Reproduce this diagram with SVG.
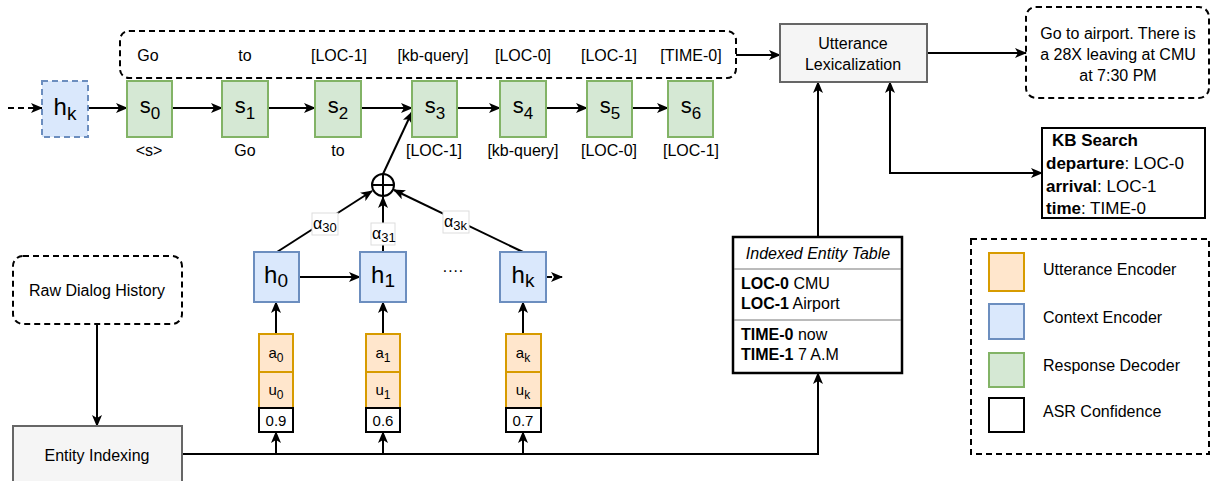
<svg xmlns="http://www.w3.org/2000/svg" width="1211" height="481" viewBox="0 0 1211 481">
<style>
text{font-family:"Liberation Sans",Arial,sans-serif;fill:#000}
.t16{font-size:16px}
.c{text-anchor:middle}
.big{font-size:22px}
.sub{font-size:17px}
.hbig{font-size:24px}
.hsub{font-size:19px}
.green{fill:#d5e8d4;stroke:#82b366;stroke-width:2}
.blue{fill:#dae8fc;stroke:#6c8ebf;stroke-width:2}
.orange{fill:#ffe6cc;stroke:#d79b00;stroke-width:2}
.gray{fill:#f5f5f5;stroke:#666;stroke-width:2}
.white{fill:#fff;stroke:#000;stroke-width:2}
.dash{fill:none;stroke:#000;stroke-width:2;stroke-dasharray:6 4}
.ln{fill:none;stroke:#000;stroke-width:2}
</style>
<defs>
<marker id="ah" viewBox="0 0 12 10" refX="11" refY="5" markerWidth="12" markerHeight="10" markerUnits="userSpaceOnUse" orient="auto-start-reverse">
<path d="M0,0 L12,5 L0,10 L3,5 Z" fill="#000"/>
</marker>
</defs>

<g id="connectors">
<path class="ln" d="M8,108 H42" stroke-dasharray="6 4" marker-end="url(#ah)"/>
<path class="ln" d="M88,108 H127" marker-end="url(#ah)"/>
<path class="ln" d="M172,108 H222" marker-end="url(#ah)"/>
<path class="ln" d="M268,108 H315" marker-end="url(#ah)"/>
<path class="ln" d="M361,108 H412" marker-end="url(#ah)"/>
<path class="ln" d="M457,108 H500" marker-end="url(#ah)"/>
<path class="ln" d="M546,108 H587" marker-end="url(#ah)"/>
<path class="ln" d="M632,108 H668" marker-end="url(#ah)"/>
<path class="ln" d="M736,55 H780" marker-end="url(#ah)"/>
<path class="ln" d="M927,53 H1026" marker-end="url(#ah)"/>
<path class="ln" d="M890,82 V173 H1042" marker-start="url(#ah)" marker-end="url(#ah)"/>
<path class="ln" d="M818,237 V82" marker-end="url(#ah)"/>
<path class="ln" d="M182,454 H818 V373" marker-end="url(#ah)"/>
<path class="ln" d="M97,324 V426" marker-end="url(#ah)"/>
<path class="ln" d="M276,454 V432" marker-end="url(#ah)"/>
<path class="ln" d="M383,454 V432" marker-end="url(#ah)"/>
<path class="ln" d="M523,454 V432" marker-end="url(#ah)"/>
<path class="ln" d="M276,334 V302" marker-end="url(#ah)"/>
<path class="ln" d="M383,334 V302" marker-end="url(#ah)"/>
<path class="ln" d="M523,334 V302" marker-end="url(#ah)"/>
<path class="ln" d="M299,277 H360" marker-end="url(#ah)"/>
<path class="ln" d="M546,277 H562" stroke-dasharray="6 4" marker-end="url(#ah)"/>
<path class="ln" d="M277,252 L372,191" marker-end="url(#ah)"/>
<path class="ln" d="M383,252 V197" marker-end="url(#ah)"/>
<path class="ln" d="M523,252 L394,190" marker-end="url(#ah)"/>
<path class="ln" d="M383,174 L412,112" marker-end="url(#ah)"/>
<g id="alpha-labels">
<rect x="312" y="213" width="26" height="22" fill="#fff" stroke="#ddd" stroke-width="1"/>
<text x="313" y="229" style="font-size:16px">α<tspan dy="3" style="font-size:13px">30</tspan></text>
<rect x="371" y="223" width="24" height="22" fill="#fff" stroke="#ddd" stroke-width="1"/>
<text x="372" y="239" style="font-size:16px">α<tspan dy="3" style="font-size:13px">31</tspan></text>
<rect x="443" y="211" width="26" height="22" fill="#fff" stroke="#ddd" stroke-width="1"/>
<text x="444" y="227" style="font-size:16px">α<tspan dy="3" style="font-size:13px">3k</tspan></text>
</g>
</g>

<g id="hk-top"><rect x="42" y="81" width="46" height="56" class="blue" stroke-dasharray="6 4"/>
<text x="65" y="115" class="c hbig">h<tspan class="hsub" dy="5">k</tspan></text></g>

<g id="s0"><rect x="127" y="81" width="45" height="56" class="green"/><text x="150" y="113" class="c big">s<tspan class="sub" dy="6">0</tspan></text></g>
<g id="s1"><rect x="222" y="81" width="46" height="56" class="green"/><text x="245" y="113" class="c big">s<tspan class="sub" dy="6">1</tspan></text></g>
<g id="s2"><rect x="315" y="81" width="46" height="56" class="green"/><text x="338" y="113" class="c big">s<tspan class="sub" dy="6">2</tspan></text></g>
<g id="s3"><rect x="412" y="81" width="45" height="56" class="green"/><text x="435" y="113" class="c big">s<tspan class="sub" dy="6">3</tspan></text></g>
<g id="s4"><rect x="500" y="81" width="46" height="56" class="green"/><text x="523" y="113" class="c big">s<tspan class="sub" dy="6">4</tspan></text></g>
<g id="s5"><rect x="587" y="81" width="45" height="56" class="green"/><text x="610" y="113" class="c big">s<tspan class="sub" dy="6">5</tspan></text></g>
<g id="s6"><rect x="668" y="81" width="45" height="56" class="green"/><text x="691" y="113" class="c big">s<tspan class="sub" dy="6">6</tspan></text></g>

<g id="decoder-inputs">
<text x="149" y="156" class="c t16">&lt;s&gt;</text>
<text x="245" y="156" class="c t16">Go</text>
<text x="338" y="156" class="c t16">to</text>
<text x="434" y="156" class="c t16">[LOC-1]</text>
<text x="523" y="156" class="c t16">[kb-query]</text>
<text x="609" y="156" class="c t16">[LOC-0]</text>
<text x="691" y="156" class="c t16">[LOC-1]</text>
</g>

<g id="decoder-output">
<rect x="120" y="31" width="616" height="47" rx="9" class="dash"/>
<text x="148" y="61" class="c t16">Go</text>
<text x="245" y="61" class="c t16">to</text>
<text x="339" y="61" class="c t16">[LOC-1]</text>
<text x="433" y="61" class="c t16">[kb-query]</text>
<text x="523" y="61" class="c t16">[LOC-0]</text>
<text x="609" y="61" class="c t16">[LOC-1]</text>
<text x="691" y="61" class="c t16">[TIME-0]</text>
</g>

<g id="utterance-lexicalization"><rect x="780" y="24" width="147" height="58" class="gray"/>
<text x="853" y="49" class="c t16">Utterance</text><text x="853" y="70" class="c t16">Lexicalization</text></g>

<g id="output-response"><rect x="1026" y="7" width="183" height="91" rx="10" class="dash"/>
<text x="1118" y="39" class="c t16">Go to airport. There is</text>
<text x="1118" y="60" class="c t16">a 28X leaving at CMU</text>
<text x="1118" y="81" class="c t16">at 7:30 PM</text></g>

<g id="kb-search"><rect x="1042" y="128" width="163" height="90" class="white"/>
<text x="1052" y="146" style="font-size:17px;font-weight:bold">KB Search</text>
<text x="1046" y="169" style="font-size:17px"><tspan font-weight="bold">departure</tspan>: LOC-0</text>
<text x="1046" y="192" style="font-size:17px"><tspan font-weight="bold">arrival</tspan>: LOC-1</text>
<text x="1046" y="214" style="font-size:17px"><tspan font-weight="bold">time</tspan>: TIME-0</text></g>

<g id="indexed-entity-table">
<rect x="733" y="237" width="169" height="136" fill="#fff" stroke="#000" stroke-width="2.5"/>
<line x1="734" y1="269" x2="901" y2="269" stroke="#777" stroke-width="1"/>
<line x1="734" y1="320" x2="901" y2="320" stroke="#777" stroke-width="1"/>
<text x="818" y="259" class="c t16" font-style="italic">Indexed Entity Table</text>
<text x="741" y="289" class="t16"><tspan font-weight="bold">LOC-0</tspan> CMU</text>
<text x="741" y="309" class="t16"><tspan font-weight="bold">LOC-1</tspan> Airport</text>
<text x="741" y="340" class="t16"><tspan font-weight="bold">TIME-0</tspan> now</text>
<text x="741" y="360" class="t16"><tspan font-weight="bold">TIME-1</tspan> 7 A.M</text>
</g>

<g id="raw-dialog-history"><rect x="13" y="256" width="169" height="68" rx="10" class="dash"/>
<text x="97" y="296" class="c t16">Raw Dialog History</text></g>

<g id="entity-indexing"><rect x="13" y="426" width="169" height="62" class="gray"/>
<text x="97" y="461" class="c t16">Entity Indexing</text></g>

<g id="h0"><rect x="254" y="252" width="45" height="50" class="blue"/><text x="276" y="283" class="c hbig">h<tspan class="hsub" dy="4">0</tspan></text></g>
<g id="h1"><rect x="360" y="252" width="46" height="50" class="blue"/><text x="383" y="283" class="c hbig">h<tspan class="hsub" dy="4">1</tspan></text></g>
<g id="hk"><rect x="500" y="252" width="46" height="50" class="blue"/><text x="523" y="283" class="c hbig">h<tspan class="hsub" dy="4">k</tspan></text></g>
<g id="dots"><text x="453" y="276" class="c t16">····</text></g>

<g id="sum"><circle cx="383" cy="185" r="11" fill="#fff" stroke="#000" stroke-width="2"/>
<path d="M372,185 H394 M383,174 V196" stroke="#000" stroke-width="2"/></g>

<g id="stack0">
<rect x="259" y="334" width="34" height="38" class="orange"/><text x="276" y="358" class="c" style="font-size:15px">a<tspan dy="4" style="font-size:12px">0</tspan></text>
<rect x="259" y="372" width="34" height="36" class="orange"/><text x="276" y="395" class="c" style="font-size:15px">u<tspan dy="4" style="font-size:12px">0</tspan></text>
<rect x="259" y="408" width="34" height="24" class="white"/><text x="276" y="426" class="c" style="font-size:15px">0.9</text></g>
<g id="stack1">
<rect x="366" y="334" width="34" height="38" class="orange"/><text x="383" y="358" class="c" style="font-size:15px">a<tspan dy="4" style="font-size:12px">1</tspan></text>
<rect x="366" y="372" width="34" height="36" class="orange"/><text x="383" y="395" class="c" style="font-size:15px">u<tspan dy="4" style="font-size:12px">1</tspan></text>
<rect x="366" y="408" width="34" height="24" class="white"/><text x="383" y="426" class="c" style="font-size:15px">0.6</text></g>
<g id="stackk">
<rect x="506" y="334" width="35" height="38" class="orange"/><text x="523" y="358" class="c" style="font-size:15px">a<tspan dy="4" style="font-size:12px">k</tspan></text>
<rect x="506" y="372" width="35" height="36" class="orange"/><text x="523" y="395" class="c" style="font-size:15px">u<tspan dy="4" style="font-size:12px">k</tspan></text>
<rect x="506" y="408" width="35" height="24" class="white"/><text x="523" y="426" class="c" style="font-size:15px">0.7</text></g>

<g id="legend">
<rect x="971" y="239" width="238" height="215" class="dash"/>
<rect x="989" y="253" width="35" height="38" class="orange"/>
<rect x="989" y="304" width="35" height="35" class="blue"/>
<rect x="989" y="353" width="35" height="34" class="green"/>
<rect x="989" y="398" width="35" height="34" class="white"/>
<text x="1043" y="275" class="t16">Utterance Encoder</text>
<text x="1043" y="323" class="t16">Context Encoder</text>
<text x="1043" y="371" class="t16">Response Decoder</text>
<text x="1043" y="417" class="t16">ASR Confidence</text>
</g>
</svg>
